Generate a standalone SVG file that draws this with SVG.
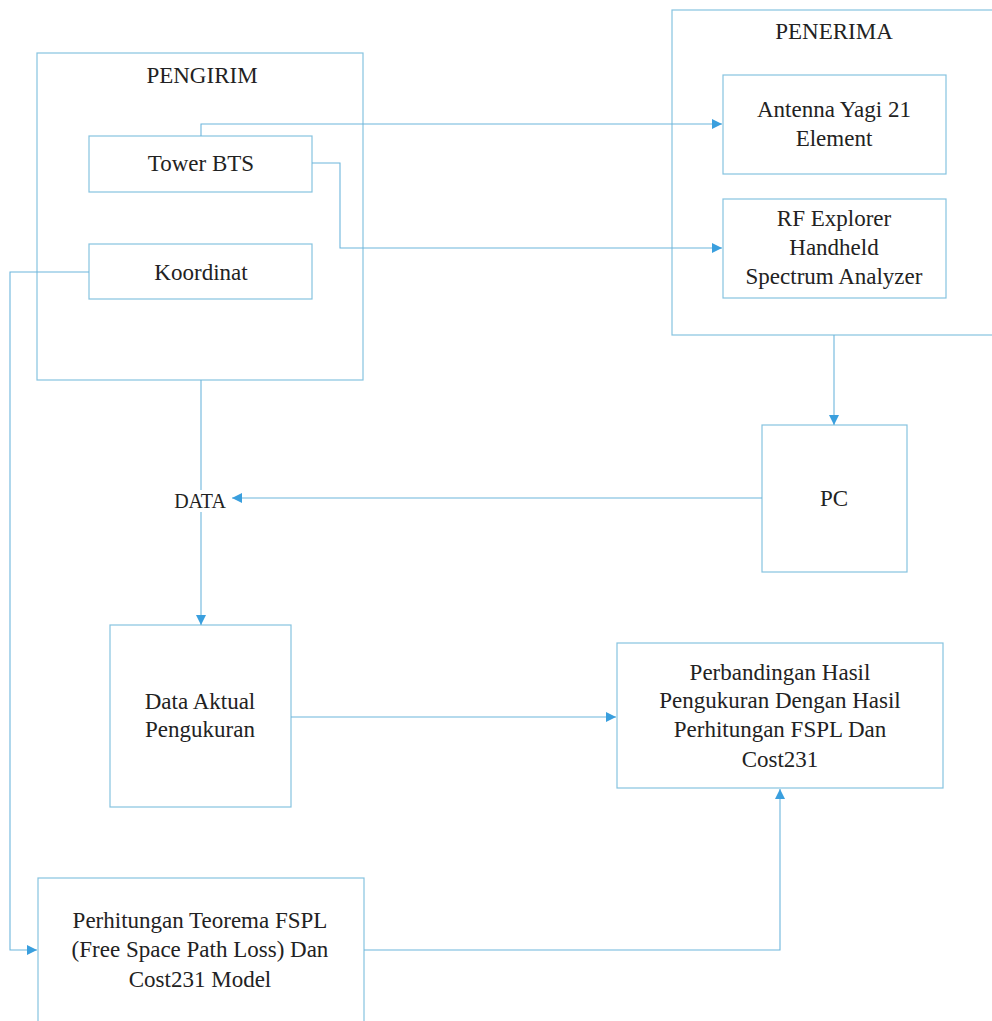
<svg xmlns="http://www.w3.org/2000/svg" width="992" height="1021" viewBox="0 0 992 1021">
<defs>
<marker id="arr" viewBox="0 0 10 10" refX="10" refY="5" markerWidth="10" markerHeight="10" markerUnits="userSpaceOnUse" orient="auto">
<path d="M0,0 L10,5 L0,10 z" fill="#3a9fde"/>
</marker>
</defs>
<style>
.box{fill:#fff;stroke:#86c3df;stroke-width:1.2}
.ln{fill:none;stroke:#6db6dc;stroke-width:1.1}
.t{font-family:"Liberation Serif","Times New Roman",serif;font-size:23px;fill:#222;text-anchor:middle}
.s{font-size:20px}
</style>
<rect width="992" height="1021" fill="#fff"/>
<g id="pengirim">
<rect class="box" x="37" y="53" width="326" height="327"/>
<text class="t" x="202" y="83">PENGIRIM</text>
</g>
<g id="tower-bts">
<rect class="box" x="89" y="136" width="223" height="56"/>
<text class="t" x="201" y="171">Tower BTS</text>
</g>
<g id="koordinat">
<rect class="box" x="89" y="244" width="223" height="55"/>
<text class="t" x="201" y="280">Koordinat</text>
</g>
<g id="penerima">
<rect class="box" x="672" y="10" width="340" height="325"/>
<text class="t" x="834" y="39">PENERIMA</text>
</g>
<g id="antenna">
<rect class="box" x="723" y="75" width="223" height="99"/>
<text class="t" x="834" y="117">Antenna Yagi 21</text>
<text class="t" x="834" y="146">Element</text>
</g>
<g id="rf-explorer">
<rect class="box" x="723" y="199" width="223" height="99"/>
<text class="t" x="834" y="226">RF Explorer</text>
<text class="t" x="834" y="255">Handheld</text>
<text class="t" x="834" y="284">Spectrum Analyzer</text>
</g>
<g id="pc">
<rect class="box" x="762" y="425" width="145" height="147"/>
<text class="t" x="834" y="506">PC</text>
</g>
<g id="data">
<text class="t s" x="200" y="508">DATA</text>
</g>
<g id="data-aktual">
<rect class="box" x="110" y="625" width="181" height="182"/>
<text class="t" x="200" y="709">Data Aktual</text>
<text class="t" x="200" y="737">Pengukuran</text>
</g>
<g id="perbandingan">
<rect class="box" x="617" y="643" width="326" height="145"/>
<text class="t" x="780" y="680">Perbandingan Hasil</text>
<text class="t" x="780" y="708">Pengukuran Dengan Hasil</text>
<text class="t" x="780" y="737">Perhitungan FSPL Dan</text>
<text class="t" x="780" y="767">Cost231</text>
</g>
<g id="perhitungan">
<rect class="box" x="38" y="878" width="326" height="160"/>
<text class="t" x="200" y="928">Perhitungan Teorema FSPL</text>
<text class="t" x="200" y="957">(Free Space Path Loss) Dan</text>
<text class="t" x="200" y="987">Cost231 Model</text>
</g>
<g id="connectors">
<path class="ln" d="M201,136 V124 H722" marker-end="url(#arr)"/>
<path class="ln" d="M312,163 H340 V248 H722" marker-end="url(#arr)"/>
<path class="ln" d="M89,272 H10 V950 H37" marker-end="url(#arr)"/>
<path class="ln" d="M201,380 V490"/>
<path class="ln" d="M201,512 V625" marker-end="url(#arr)"/>
<path class="ln" d="M834,335 V425" marker-end="url(#arr)"/>
<path class="ln" d="M762,498 H232" marker-end="url(#arr)"/>
<path class="ln" d="M291,717 H616" marker-end="url(#arr)"/>
<path class="ln" d="M364,950 H780 V789" marker-end="url(#arr)"/>
</g>
</svg>
